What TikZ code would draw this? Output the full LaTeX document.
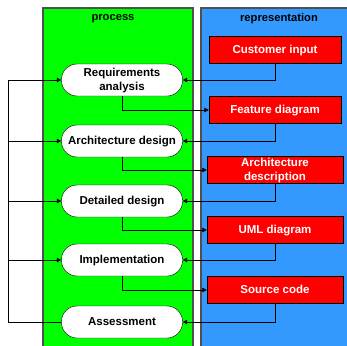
\documentclass[tikz,border=0pt]{standalone}
\usepackage{fontspec}
\setmainfont{Liberation Sans}
\usetikzlibrary{arrows.meta}

\definecolor{procgreen}{RGB}{0,255,0}
\definecolor{reprblue}{RGB}{51,153,255}
\definecolor{panelgray}{RGB}{80,80,80}

\tikzset{
  panel/.style={draw=panelgray,line width=1.2pt},
  proc/.style={draw,fill=white,rounded corners=15.5pt,minimum width=121pt,minimum height=32pt,
    align=center,font=\fontsize{11.5}{14.5}\selectfont\bfseries,inner sep=1pt,text depth=1pt},
  repr/.style={draw,fill=red,text=white,minimum width=132pt,minimum height=27pt,
    align=center,font=\fontsize{11.5}{14.5}\selectfont\bfseries,inner sep=1pt,text depth=1pt},
  head/.style={font=\fontsize{11.2}{14}\selectfont\bfseries},
  arr/.style={-{Triangle[length=4.5pt,width=4.5pt]},line width=0.8pt},
}

\begin{document}
\begin{tikzpicture}[x=1pt,y=-1pt]
\useasboundingbox (0,0) rectangle (347,345);
% the two columns
\draw[panel,fill=procgreen](43,8) rectangle (193,350);
\draw[panel,fill=reprblue](201,8) rectangle (352,350);
\node[head] (hproc) at (113,18.5) {process};
\node[head] (hrepr) at (279,18.5) {representation};

% process steps
\node[proc] (req) at (122,80) {Requirements\\analysis};
\node[proc] (arch) at (122,141) {Architecture design};
\node[proc] (det) at (122,201) {Detailed design};
\node[proc] (impl) at (122,260) {Implementation};
\node[proc] (assess) at (122,322) {Assessment};

% artefacts
\node[repr] (cust) at (275,50) {Customer input};
\node[repr] (feat) at (275,110) {Feature diagram};
\node[repr,minimum width=136pt] (adesc) at (275,170) {Architecture\\description};
\node[repr,minimum width=136pt] (uml) at (275,230) {UML diagram};
\node[repr,minimum width=136pt] (src) at (275,290) {Source code};

% inputs
\draw[arr](cust.south) |- (req.east);
\draw[arr](feat.south) |- (arch.east);
\draw[arr](adesc.south) |- (det.east);
\draw[arr](uml.south) |- (impl.east);
\draw[arr](src.south) |- (assess.east);
% outputs
\draw[arr](req.south) |- (feat.west);
\draw[arr](arch.south) |- (adesc.west);
\draw[arr](det.south) |- (uml.west);
\draw[arr](impl.south) |- (src.west);

% feedback from assessment
\coordinate (back) at (8,322);
\draw[arr](assess.west) -- (back) |- (req.west);
\draw[arr](back |- arch.west) -- (arch.west);
\draw[arr](back |- det.west) -- (det.west);
\draw[arr](back |- impl.west) -- (impl.west);
\end{tikzpicture}
\end{document}
